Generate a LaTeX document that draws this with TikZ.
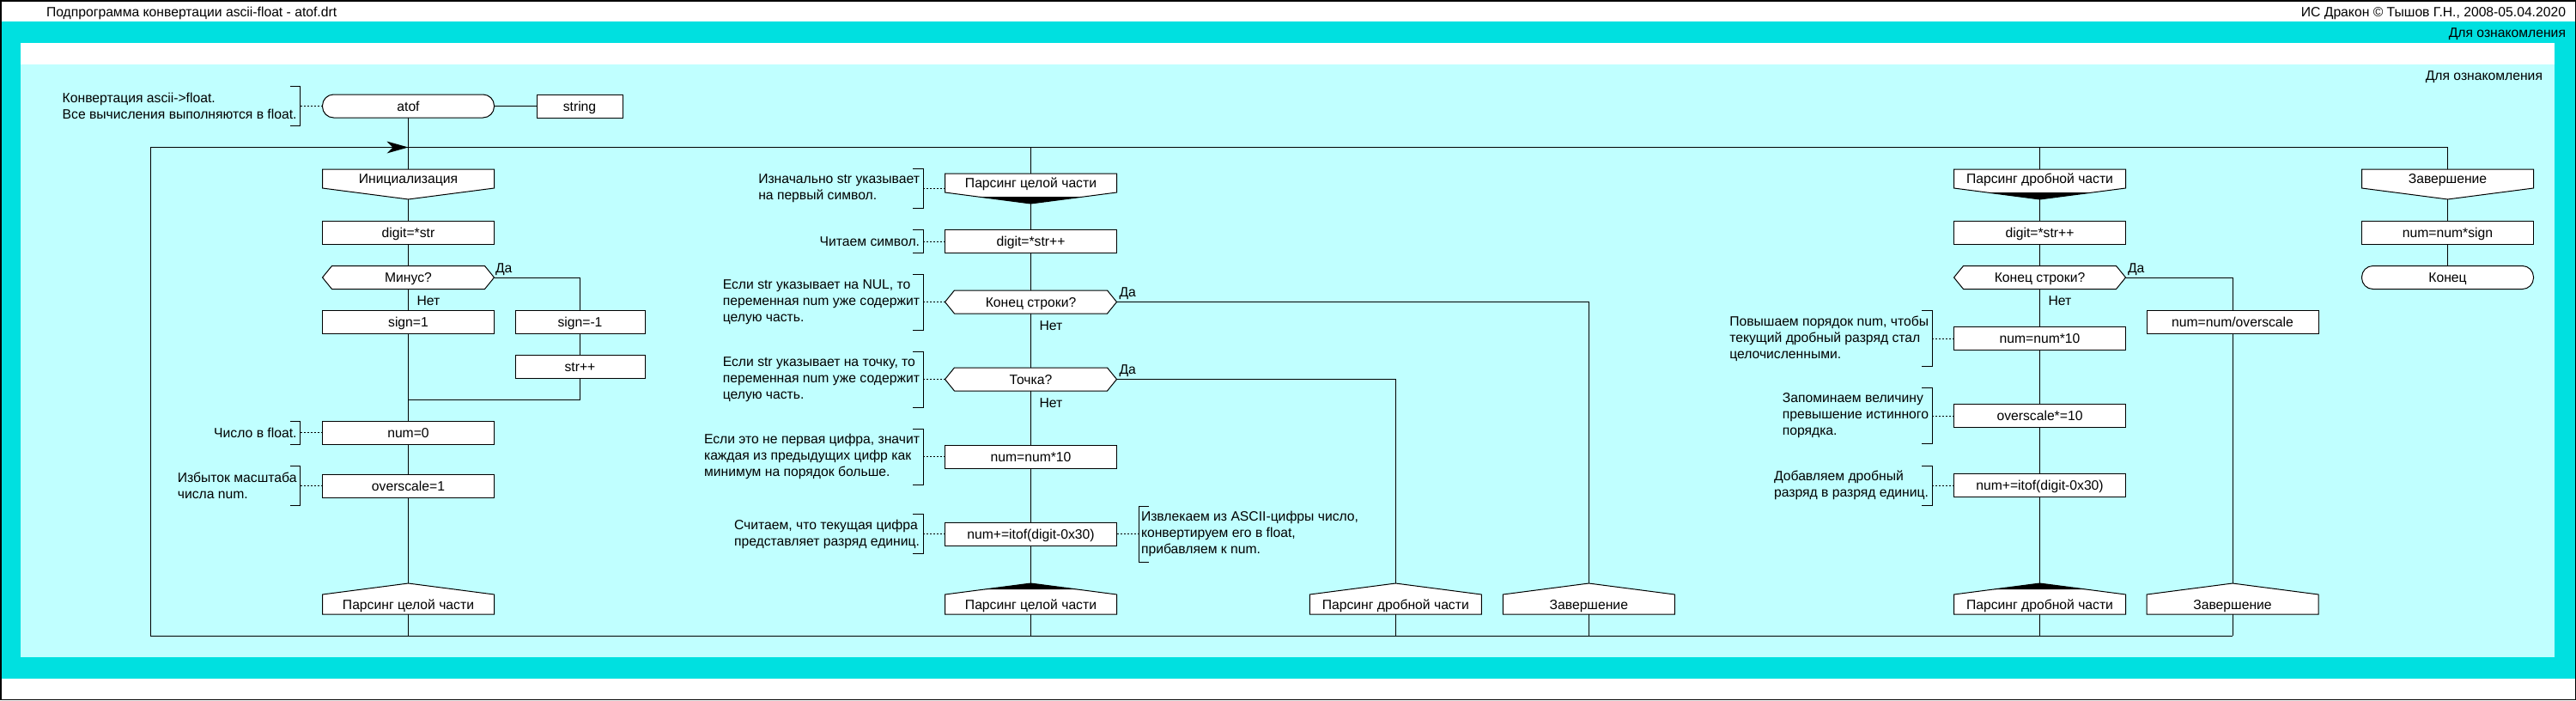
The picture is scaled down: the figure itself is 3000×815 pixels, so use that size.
\documentclass[tikz,border=0pt]{standalone}
\usepackage{fontspec}
\setmainfont{Liberation Sans}
\usetikzlibrary{arrows.meta,calc}
\definecolor{dkcyan}{RGB}{0,224,224}
\definecolor{ltcyan}{RGB}{192,255,255}
\tikzset{
  every node/.style={font=\fontsize{15.7}{19}\selectfont, inner sep=0pt, outer sep=0pt},
  flow/.style={line width=1pt, draw=black},
  shp/.style={minimum width=200pt, minimum height=27pt, text height=14pt, text depth=2.6pt},
  box/.style={shp, draw, fill=white, line width=1pt},
  lbl/.style={anchor=west, text height=14pt, text depth=2.6pt},
  cmtxt/.style={align=left},
  dotl/.style={line width=1pt, dash pattern=on 2pt off 2pt},
}
% header: name, x, top, text
\newcommand\dkhead[4]{%
  \filldraw[fill=white, line width=1pt] (#2-100,#3) -- (#2+100,#3) -- (#2+100,#3+22) -- (#2,#3+35) -- (#2-100,#3+22) -- cycle;
  \node[shp, minimum height=22pt] (#1) at (#2,#3+11) {#4};
  \coordinate (#1tip) at (#2,#3+35);}
\newcommand\dkheadblk[2]{\fill (#1-61.5,#2+27) -- (#1+61.5,#2+27) -- (#1,#2+35) -- cycle;}
% address: name, x, top, text
\newcommand\dkaddr[4]{%
  \filldraw[fill=white, line width=1pt] (#2,#3) -- (#2+100,#3+13) -- (#2+100,#3+36) -- (#2-100,#3+36) -- (#2-100,#3+13) -- cycle;
  \node[shp, minimum height=23pt] (#1) at (#2,#3+24.5) {#4};
  \coordinate (#1tip) at (#2,#3);}
\newcommand\dkaddrblk[2]{\fill (#1,#2) -- (#1+55,#2+7.2) -- (#1-55,#2+7.2) -- cycle;}
% question: name, x, top, text
\newcommand\dkq[4]{%
  \filldraw[fill=white, line width=1pt] (#2-100,#3+13.5) -- (#2-89,#3) -- (#2+89,#3) -- (#2+100,#3+13.5) -- (#2+89,#3+27) -- (#2-89,#3+27) -- cycle;
  \node[shp] (#1) at (#2,#3+13.5) {#4};}
% left comment: name, bracket x, centre y, half height, text, target
\newcommand\cmtL[6]{%
  \node[cmtxt, anchor=east] (#1) at (#2-4,#3) {#5};
  \draw[line width=1pt] (#2-12,#3-#4) -- (#2,#3-#4) -- (#2,#3+#4) -- (#2-12,#3+#4);
  \coordinate (#1b) at (#2,#3);
  \draw[dotl] (#1b) -- (#6.west |- #1b);}
\newcommand\cmtR[6]{%
  \node[cmtxt, anchor=west] (#1) at (#2+3,#3) {#5};
  \draw[line width=1pt] (#2+12,#3-#4) -- (#2,#3-#4) -- (#2,#3+#4) -- (#2+12,#3+#4);
  \coordinate (#1b) at (#2,#3);
  \draw[dotl] (#6.east |- #1b) -- (#1b);}

\begin{document}
\begin{tikzpicture}[x=1pt,y=-1pt]
\useasboundingbox (0,0) rectangle (3000,815);
% background
\fill[white] (0,0) rectangle (3000,815);
\fill[dkcyan] (0,25) rectangle (3000,790);
\fill[white] (24,50) rectangle (2975,75);
\fill[ltcyan] (24,75) rectangle (2975,765);
\draw[line width=1.5pt] (0.75,0.75) rectangle (2999.25,814.25);
\node[lbl] (title) at (54,13.5) {Подпрограмма конвертации ascii-float - atof.drt};
\node[lbl, anchor=east] (copy) at (2988,13.5) {ИС Дракон © Тышов Г.Н., 2008-05.04.2020};
\node[lbl, anchor=east] (fam1) at (2988,38) {Для ознакомления};
\node[lbl, anchor=east] (fam2) at (2961,88) {Для ознакомления};

% loop frame
\coordinate (TL) at (175,171.5);
\coordinate (TR) at (2850.5,171.5);
\coordinate (BL) at (175,740);
\coordinate (BR) at (2600,740);
\coordinate (J0) at (475.5,171.5);
\coordinate (T2) at (1200.5,171.5);
\coordinate (T5) at (2375.5,171.5);
\coordinate (J1) at (475.5,465);
\coordinate (B1) at (475.5,740);
\coordinate (B2) at (1200.5,740);
\coordinate (B3) at (1625.3,740);
\coordinate (B4) at (1850.3,740);
\coordinate (B5) at (2375.5,740);

% ---------- column 1 ----------
\node[box, rounded corners=13pt] (atof) at (475.5,123.5) {atof};
\node[box, minimum width=100pt] (strn) at (675,123.5) {string};
\dkhead{init}{475.5}{197}{Инициализация}
\node[box] (d1) at (475.5,271) {digit=*str};
\dkq{q1}{475.5}{309.5}{Минус?}
\node[box] (s1) at (475.5,374.5) {sign=1};
\node[box, minimum width=151pt] (s2) at (675.5,374.5) {sign=-1};
\node[box, minimum width=151pt] (s3) at (675.5,427) {str++};
\node[box] (n0) at (475.5,503.5) {num=0};
\node[box] (o1) at (475.5,565.5) {overscale=1};
\dkaddr{a1}{475.5}{679}{Парсинг целой части}
\node[lbl] (y1) at (577,311.5) {Да};
\node[lbl] (n1) at (485.5,350) {Нет};

% ---------- column 2 ----------
\dkhead{h2}{1200.5}{202}{Парсинг целой части}
\dkheadblk{1200.5}{202}
\node[box] (d2) at (1200.5,281) {digit=*str++};
\dkq{q2}{1200.5}{338}{Конец строки?}
\dkq{q3}{1200.5}{428}{Точка?}
\node[box] (m2) at (1200.5,531.5) {num=num*10};
\node[box] (p2) at (1200.5,621.5) {num+=itof(digit-0x30)};
\dkaddr{a2}{1200.5}{679}{Парсинг целой части}
\dkaddrblk{1200.5}{679}
\node[lbl] (y2) at (1303.5,340) {Да};
\node[lbl] (n2) at (1210.5,379) {Нет};
\node[lbl] (y3) at (1303.5,430) {Да};
\node[lbl] (n3) at (1210.5,469) {Нет};

% ---------- columns 3, 4 ----------
\dkaddr{a3}{1625.3}{679}{Парсинг дробной части}
\dkaddr{a4}{1850.3}{679}{Завершение}

% ---------- column 5 ----------
\dkhead{h5}{2375.5}{197}{Парсинг дробной части}
\dkheadblk{2375.5}{197}
\node[box] (d5) at (2375.5,271) {digit=*str++};
\dkq{q5}{2375.5}{309.5}{Конец строки?}
\node[box] (m5) at (2375.5,394) {num=num*10};
\node[box] (o5) at (2375.5,484) {overscale*=10};
\node[box] (p5) at (2375.5,565) {num+=itof(digit-0x30)};
\dkaddr{a5}{2375.5}{679}{Парсинг дробной части}
\dkaddrblk{2375.5}{679}
\node[lbl] (y5) at (2478,311.5) {Да};
\node[lbl] (n5) at (2385.5,350) {Нет};

% ---------- column 6 ----------
\node[box] (r6) at (2600,374.5) {num=num/overscale};
\dkaddr{a6}{2600}{679}{Завершение}

% ---------- column 7 ----------
\dkhead{h7}{2850.5}{197}{Завершение}
\node[box] (m7) at (2850.5,271) {num=num*sign};
\node[box, rounded corners=13pt] (e7) at (2850.5,323) {Конец};

% ---------- connectors ----------
\draw[flow] (TL) -- (TR) -- (h7);
\draw[flow] (TL) -- (BL) -- (BR);
\fill (J0) -- ++(-25,-7) -- ++(7,7) -- ++(-7,7) -- cycle;
\draw[flow] (atof) -- (strn);
\draw[flow] (atof) -- (init);
\draw[flow] (inittip) -- (d1);
\draw[flow] (d1) -- (q1);
\draw[flow] (q1) -- (s1);
\draw[flow] (q1.east) -| (s2);
\draw[flow] (s2) -- (s3);
\draw[flow] (s3.south) |- (J1);
\draw[flow] (s1) -- (n0);
\draw[flow] (n0) -- (o1);
\draw[flow] (o1) -- (a1tip);
\draw[flow] (a1) -- (B1);

\draw[flow] (T2) -- (h2);
\draw[flow] (h2tip) -- (d2);
\draw[flow] (d2) -- (q2);
\draw[flow] (q2) -- (q3);
\draw[flow] (q3) -- (m2);
\draw[flow] (m2) -- (p2);
\draw[flow] (p2) -- (a2tip);
\draw[flow] (a2) -- (B2);
\draw[flow] (q2.east) -| (a4tip);
\draw[flow] (q3.east) -| (a3tip);
\draw[flow] (a3) -- (B3);
\draw[flow] (a4) -- (B4);

\draw[flow] (T5) -- (h5);
\draw[flow] (h5tip) -- (d5);
\draw[flow] (d5) -- (q5);
\draw[flow] (q5) -- (m5);
\draw[flow] (m5) -- (o5);
\draw[flow] (o5) -- (p5);
\draw[flow] (p5) -- (a5tip);
\draw[flow] (a5) -- (B5);
\draw[flow] (q5.east) -| (r6);
\draw[flow] (r6) -- (a6tip);
\draw[flow] (a6) -- (BR);

\draw[flow] (h7tip) -- (m7);
\draw[flow] (m7) -- (e7);

% ---------- comments ----------
\cmtL{c1}{349.5}{123.5}{23}{Конвертация ascii->float.\\Все вычисления выполняются в float.}{atof}
\cmtL{c2}{349.5}{503.5}{13.5}{Число в float.}{n0}
\cmtL{c3}{349.5}{565.5}{23}{Избыток масштаба\\числа num.}{o1}
\cmtL{c4}{1075}{219.5}{23}{Изначально str указывает\\на первый символ.}{h2}
\cmtL{c5}{1075}{281}{13.5}{Читаем символ.}{d2}
\cmtL{c6}{1075}{351.5}{32.5}{Если str указывает на NUL, то\\переменная num уже содержит\\целую часть.}{q2}
\cmtL{c7}{1075}{441.5}{32.5}{Если str указывает на точку, то\\переменная num уже содержит\\целую часть.}{q3}
\cmtL{c8}{1075}{531.5}{32.5}{Если это не первая цифра, значит\\каждая из предыдущих цифр как\\минимум на порядок больше.}{m2}
\cmtL{c9}{1075}{621.5}{23}{Считаем, что текущая цифра\\представляет разряд единиц.}{p2}
\cmtR{c10}{1326}{621.5}{32.5}{Извлекаем из ASCII-цифры число,\\конвертируем его в float,\\прибавляем к num.}{p2}
\cmtL{c11}{2250}{394}{32.5}{Повышаем порядок num, чтобы\\текущий дробный разряд стал\\целочисленными.}{m5}
\cmtL{c12}{2250}{484}{32.5}{Запоминаем величину\\превышение истинного\\порядка.}{o5}
\cmtL{c13}{2250}{565}{23}{Добавляем дробный\\разряд в разряд единиц.}{p5}
\end{tikzpicture}
\end{document}
